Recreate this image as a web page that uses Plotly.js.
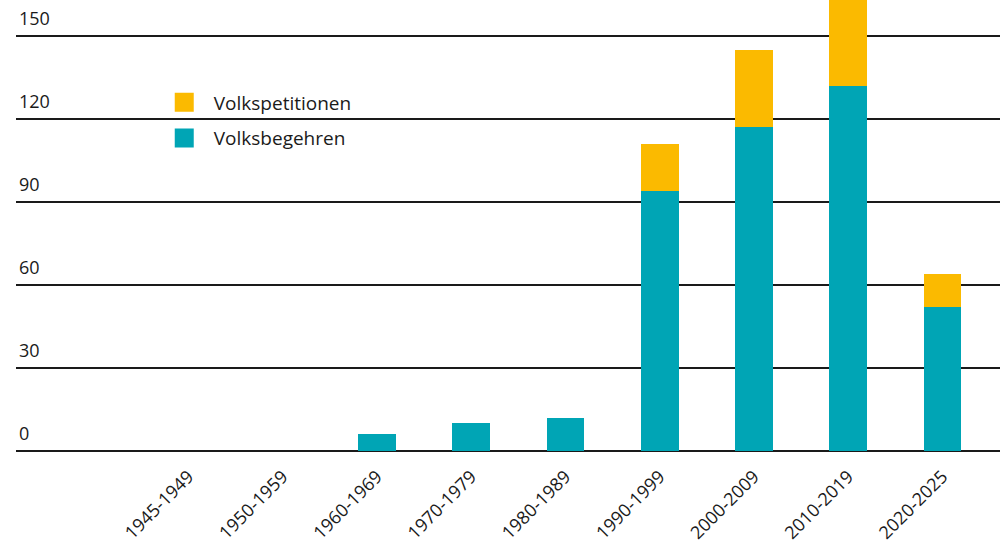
<!DOCTYPE html>
<html>
<head>
<meta charset="utf-8">
<script src="https://cdn.plot.ly/plotly-3.0.1.min.js"></script>
<style>html,body{margin:0;padding:0;background:#fff;}#chart{width:1000px;height:552px;}</style>
</head>
<body>
<div id="chart"></div>
<script>
// Data
const categories = ["1945-1949","1950-1959","1960-1969","1970-1979","1980-1989","1990-1999","2000-2009","2010-2019","2020-2025"];
const volksbegehren = [0, 0, 6, 10, 12, 94, 117, 132, 52];
const volkspetitionen = [0, 0, 0, 0, 0, 17, 28, 35, 12];
const yTicks = [0, 30, 60, 90, 120, 150];
const seriesNames = ["Volksbegehren", "Volkspetitionen"];

const teal = "#00A5B5";
const yellow = "#FBBA00";
const fontFamily = "'Open Sans', 'DejaVu Sans', sans-serif";

const traces = [
  {type: "bar", name: seriesNames[0], x: categories, y: volksbegehren, marker: {color: teal}, width: 0.4, showlegend: false, hoverinfo: "x+y+name"},
  {type: "bar", name: seriesNames[1], x: categories, y: volkspetitionen, marker: {color: yellow}, width: 0.4, showlegend: false, hoverinfo: "x+y+name"},
  // legend-only entries (bigger square swatches)
  {type: "scatter", mode: "markers", name: seriesNames[1], x: [null], y: [null], legendgroup: "a",
   marker: {symbol: "square", size: 16, color: yellow, line: {color: yellow, width: 3}}},
  {type: "scatter", mode: "markers", name: seriesNames[0], x: [null], y: [null], legendgroup: "b",
   marker: {symbol: "square", size: 16, color: teal, line: {color: teal, width: 3}}}
];

const layout = {
  width: 1000, height: 552,
  margin: {l: 16, r: 0, t: 0, b: 101, pad: 0},
  paper_bgcolor: "#fff", plot_bgcolor: "#fff",
  barmode: "stack",
  font: {family: fontFamily, size: 18, color: "#1a1a1a"},
  xaxis: {
    type: "category",
    range: [-1.83, 8.61],
    showgrid: false, zeroline: false, showline: false,
    tickangle: -45,
    ticks: "outside", ticklen: 7, tickcolor: "rgba(0,0,0,0)",
    tickfont: {family: fontFamily, size: 18, color: "#1a1a1a"},
    fixedrange: true
  },
  yaxis: {
    range: [0, 163],
    tickvals: yTicks,
    ticktext: yTicks.map(String),
    showgrid: true, gridcolor: "#1a1a1a", gridwidth: 1.3,
    zeroline: true, zerolinecolor: "#1a1a1a", zerolinewidth: 2,
    showline: false,
    ticks: "", ticklabelposition: "inside top", ticklabelshift: -5,
    tickfont: {family: fontFamily, size: 18, color: "#1a1a1a"},
    fixedrange: true
  },
  legend: {
    x: 0.141, y: 0.815, xanchor: "left", yanchor: "top",
    bgcolor: "rgba(0,0,0,0)",
    traceorder: "grouped", tracegroupgap: 8,
    font: {family: fontFamily, size: 19, color: "#1a1a1a"},
    itemwidth: 49
  },
  showlegend: true
};

Plotly.newPlot("chart", traces, layout, {staticPlot: true, displayModeBar: false});
</script>
</body>
</html>
